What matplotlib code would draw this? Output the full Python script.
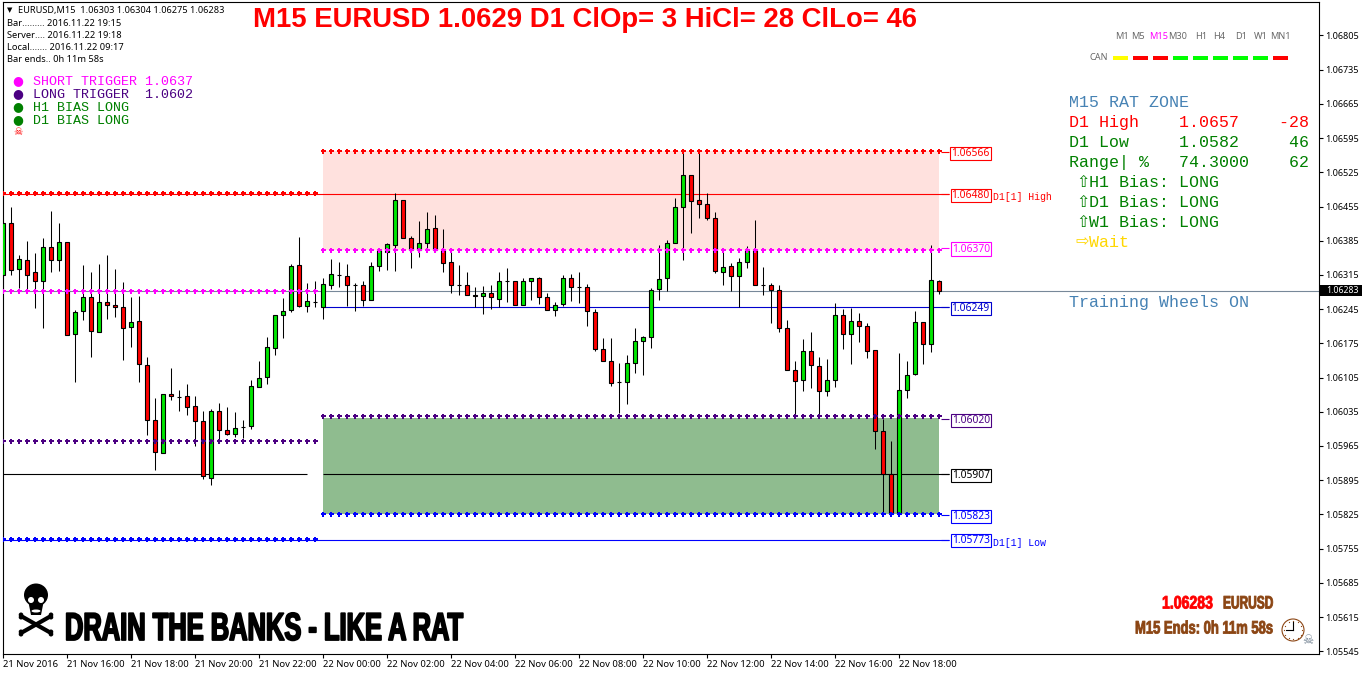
#!/usr/bin/env python3
"""EURUSD M15 chart with RAT zones, redrawn with matplotlib"""

import matplotlib
matplotlib.use('Agg')
import math
import matplotlib.pyplot as plt
import matplotlib.patheffects as pe
from matplotlib.patches import Circle, Ellipse, Rectangle, Polygon
from matplotlib.transforms import Affine2D

W, H = 1362, 675

# Candles, oldest first
opens = [
    1.06314, 1.06421, 1.06327, 1.06345, 1.06320, 1.06302, 1.06372, 1.06345, 1.06382, 1.06194,
    1.06241, 1.06269, 1.06198, 1.06259, 1.06253, 1.06249, 1.06208, 1.06220, 1.06130, 1.06018,
    1.05950, 1.06071, 1.06065, 1.06067, 1.06046, 1.06016, 1.05899, 1.06036, 1.05997, 1.05989,
    1.06004, 1.06005, 1.06085, 1.06106, 1.06165, 1.06232, 1.06243, 1.06335, 1.06251, 1.06260,
    1.06249, 1.06294, 1.06315, 1.06312, 1.06294, 1.06294, 1.06263, 1.06333, 1.06361, 1.06376,
    1.06468, 1.06390, 1.06367, 1.06380, 1.06410, 1.06367, 1.06341, 1.06294, 1.06294, 1.06273,
    1.06271, 1.06279, 1.06265, 1.06303, 1.06302, 1.06253, 1.06302, 1.06308, 1.06269, 1.06243,
    1.06255, 1.06308, 1.06290, 1.06290, 1.06239, 1.06163, 1.06138, 1.06095, 1.06095, 1.06134,
    1.06179, 1.06189, 1.06286, 1.06308, 1.06380, 1.06455, 1.06519, 1.06468, 1.06460, 1.06431,
    1.06322, 1.06333, 1.06312, 1.06341, 1.06365, 1.06294, 1.06294, 1.06284, 1.06206, 1.06120,
    1.06099, 1.06159, 1.06128, 1.06077, 1.06101, 1.06234, 1.06194, 1.06220, 1.06210, 1.06161,
    1.05995, 1.05908, 1.05825, 1.06079, 1.06112, 1.06218, 1.06173, 1.06303,
]
highs = [
    1.06424, 1.06453, 1.06355, 1.06385, 1.06359, 1.06390, 1.06445, 1.06421, 1.06382, 1.06243,
    1.06335, 1.06320, 1.06337, 1.06355, 1.06327, 1.06300, 1.06269, 1.06271, 1.06147, 1.06063,
    1.06071, 1.06124, 1.06079, 1.06091, 1.06067, 1.06036, 1.06040, 1.06052, 1.06044, 1.06034,
    1.06018, 1.06099, 1.06138, 1.06187, 1.06232, 1.06267, 1.06337, 1.06392, 1.06298, 1.06302,
    1.06308, 1.06347, 1.06341, 1.06337, 1.06298, 1.06302, 1.06341, 1.06365, 1.06380, 1.06482,
    1.06468, 1.06394, 1.06425, 1.06443, 1.06437, 1.06408, 1.06363, 1.06335, 1.06322, 1.06290,
    1.06292, 1.06294, 1.06322, 1.06329, 1.06302, 1.06308, 1.06308, 1.06310, 1.06279, 1.06259,
    1.06314, 1.06316, 1.06320, 1.06296, 1.06245, 1.06185, 1.06185, 1.06134, 1.06151, 1.06206,
    1.06191, 1.06288, 1.06376, 1.06386, 1.06472, 1.06568, 1.06519, 1.06568, 1.06482, 1.06443,
    1.06363, 1.06339, 1.06349, 1.06374, 1.06427, 1.06331, 1.06298, 1.06294, 1.06222, 1.06138,
    1.06183, 1.06198, 1.06148, 1.06142, 1.06257, 1.06245, 1.06247, 1.06237, 1.06216, 1.06161,
    1.06020, 1.05976, 1.06155, 1.06138, 1.06241, 1.06218, 1.06376, 1.06304,
]
lows = [
    1.06284, 1.06314, 1.06289, 1.06284, 1.06248, 1.06207, 1.06320, 1.06324, 1.06192, 1.06095,
    1.06222, 1.06148, 1.06198, 1.06224, 1.06228, 1.06140, 1.06168, 1.06095, 1.05988, 1.05915,
    1.05950, 1.06060, 1.06037, 1.06029, 1.05964, 1.05897, 1.05886, 1.05971, 1.05987, 1.05984,
    1.05982, 1.05999, 1.06085, 1.06091, 1.06152, 1.06185, 1.06240, 1.06249, 1.06239, 1.06249,
    1.06224, 1.06287, 1.06291, 1.06252, 1.06242, 1.06252, 1.06263, 1.06324, 1.06326, 1.06324,
    1.06390, 1.06330, 1.06352, 1.06367, 1.06361, 1.06322, 1.06279, 1.06273, 1.06273, 1.06249,
    1.06236, 1.06246, 1.06249, 1.06260, 1.06253, 1.06253, 1.06264, 1.06256, 1.06243, 1.06230,
    1.06252, 1.06262, 1.06258, 1.06211, 1.06159, 1.06138, 1.06088, 1.06033, 1.06050, 1.06114,
    1.06111, 1.06166, 1.06264, 1.06282, 1.06380, 1.06345, 1.06400, 1.06431, 1.06427, 1.06318,
    1.06294, 1.06282, 1.06249, 1.06329, 1.06294, 1.06273, 1.06216, 1.06198, 1.06120, 1.06028,
    1.06077, 1.06083, 1.06028, 1.06067, 1.06085, 1.06163, 1.06132, 1.06177, 1.06146, 1.05958,
    1.05825, 1.05825, 1.05825, 1.06063, 1.06110, 1.06132, 1.06157, 1.06275,
]
closes = [
    1.06421, 1.06325, 1.06347, 1.06314, 1.06302, 1.06372, 1.06345, 1.06382, 1.06192, 1.06239,
    1.06269, 1.06200, 1.06259, 1.06253, 1.06249, 1.06206, 1.06218, 1.06132, 1.06018, 1.05952,
    1.06071, 1.06067, 1.06065, 1.06044, 1.06016, 1.05903, 1.06036, 1.05997, 1.05989, 1.06001,
    1.06004, 1.06087, 1.06104, 1.06167, 1.06232, 1.06241, 1.06333, 1.06251, 1.06261, 1.06260,
    1.06296, 1.06316, 1.06315, 1.06294, 1.06294, 1.06263, 1.06333, 1.06365, 1.06378, 1.06468,
    1.06390, 1.06367, 1.06380, 1.06408, 1.06367, 1.06339, 1.06294, 1.06294, 1.06273, 1.06272,
    1.06279, 1.06269, 1.06302, 1.06303, 1.06253, 1.06302, 1.06308, 1.06269, 1.06243, 1.06253,
    1.06308, 1.06290, 1.06290, 1.06241, 1.06163, 1.06138, 1.06093, 1.06095, 1.06134, 1.06179,
    1.06189, 1.06284, 1.06306, 1.06380, 1.06455, 1.06519, 1.06466, 1.06460, 1.06431, 1.06324,
    1.06331, 1.06312, 1.06341, 1.06365, 1.06294, 1.06294, 1.06284, 1.06206, 1.06120, 1.06097,
    1.06159, 1.06130, 1.06077, 1.06101, 1.06234, 1.06194, 1.06220, 1.06210, 1.06159, 1.05995,
    1.05908, 1.05825, 1.06079, 1.06110, 1.06218, 1.06173, 1.06304, 1.06283,
]

bar_labels = ['21 Nov 2016', '21 Nov 16:00', '21 Nov 18:00', '21 Nov 20:00', '21 Nov 22:00',
              '22 Nov 00:00', '22 Nov 02:00', '22 Nov 04:00', '22 Nov 06:00', '22 Nov 08:00',
              '22 Nov 10:00', '22 Nov 12:00', '22 Nov 14:00', '22 Nov 16:00', '22 Nov 18:00']
price_ticks = [1.06805, 1.06735, 1.06665, 1.06595, 1.06525, 1.06455, 1.06385, 1.06315, 1.06245, 1.06175,
               1.06105, 1.06035, 1.05965, 1.05895, 1.05825, 1.05755, 1.05685, 1.05615, 1.05545]

last_price = 1.06283
d1_high, d1_low = 1.06480, 1.05773
pivot_level = 1.06249
mid_level = 1.05907

# Dotted levels: (price, colour), previous day on the left, today on the right
left_dots = [(1.06482, '#ff0000'), (1.06282, '#ff00ff'), (1.05975, '#4b0082'), (1.05775, '#0000ff')]
right_dots = [(1.06568, '#ff0000'), (1.06367, '#ff00ff'), (1.06026, '#4b0082'), (1.05825, '#0000ff')]

# Tagged prices on the right of the zones
price_tags = [(1.06566, '#ff0000'), (1.06480, '#ff0000'), (1.06370, '#ff00ff'), (1.06249, '#0000cd'),
              (1.06020, '#4b0082'), (1.05907, '#000000'), (1.05823, '#0000ff'), (1.05773, '#0000ff')]

tf_names = ['M1', 'M5', 'M15', 'M30', 'H1', 'H4', 'D1', 'W1', 'MN1']
tf_colors = ['#696969', '#696969', '#ff00ff', '#696969', '#696969', '#696969', '#696969', '#696969', '#696969']
can_colors = ['#ffff00', '#ff0000', '#ff0000', '#00ff00', '#00ff00', '#00ff00', '#00ff00', '#00ff00', '#ff0000']

MONO = 'Liberation Mono'
SANS = 'Noto Sans'
ARIAL = 'Liberation Sans'


class Squeezed(pe.AbstractPathEffect):
    """Draws a text narrower around x0 (display px), there is no Impact here"""

    def __init__(self, x0, sx, stroke=0.0):
        super().__init__()
        self.x0, self.sx, self.stroke = x0, sx, stroke

    def draw_path(self, renderer, gc, tpath, affine, rgbFace=None):
        squeeze = affine + Affine2D().translate(-self.x0, 0).scale(self.sx, 1).translate(self.x0, 0)
        gc0 = renderer.new_gc()
        gc0.copy_properties(gc)
        gc0.set_linewidth(self.stroke)
        gc0.set_foreground(rgbFace)
        renderer.draw_path(gc0, tpath, squeeze, rgbFace)
        gc0.restore()


def px(x, y):
    """Pixel position of the reference -> figure fraction"""
    return x / W, 1 - y / H


def put(fig, x, y, s, **kw):
    kw.setdefault('va', 'center')
    kw.setdefault('family', SANS)
    kw.setdefault('fontsize', 6.7)
    return fig.text(*px(x, y), s, **kw)


def heavy(fig, x, y, s, size, sx, color, stroke=0.6, ha='left'):
    """Bold squeezed text, x is the edge it is squeezed towards"""
    return put(fig, x, y, s, family=ARIAL, fontweight='bold', fontsize=size, color=color, ha=ha,
               path_effects=[Squeezed(x, sx, stroke)])


def draw_candles(ax):
    xs = list(range(len(opens)))
    ax.vlines(xs, lows, highs, color='black', lw=0.75, zorder=3)
    for i in xs:
        o, c = opens[i], closes[i]
        col = '#00e600' if c > o else '#ff0000'
        if abs(c - o) < 0.00003:
            col = 'black'
        ax.bar(i, abs(c - o), bottom=min(o, c), width=0.5, color=col,
               edgecolor='black', linewidth=0.8, zorder=4)


def draw_levels(ax):
    n = len(opens)
    ax.add_patch(Rectangle((40.0, 1.06367), n - 41.0, 1.06568 - 1.06367, fc='#ffe1de', ec='none', zorder=0))
    ax.add_patch(Rectangle((40.0, 1.05825), n - 41.0, 1.06023 - 1.05825, fc='#8fbc8f', ec='none', zorder=0))

    end = 118.3
    ax.axhline(last_price, color='#778899', lw=0.8, zorder=1)
    ax.hlines(d1_high, -0.1, end, color='#ff0000', lw=0.8, zorder=1)
    ax.hlines(d1_low, -0.1, end, color='#0000ff', lw=0.8, zorder=1)
    ax.hlines(pivot_level, 40.0, end, color='#0000cd', lw=0.8, zorder=1)
    ax.hlines(mid_level, -0.1, 38, color='black', lw=0.8, zorder=1)
    ax.hlines(mid_level, 40.0, end, color='black', lw=0.8, zorder=1)

    for price, col in left_dots:
        ax.plot(range(0, 40), [price] * 40, ls='none', marker='P', ms=3.6, mew=0, color=col, zorder=5)
    for price, col in right_dots:
        ax.plot(range(40, n), [price] * (n - 40), ls='none', marker='P', ms=3.6, mew=0, color=col, zorder=5)

    for price, col in price_tags:
        ax.hlines(price, 117.3, end, color=col, lw=0.8, zorder=1)
        ax.text(120.95, price - 0.00002, f'{price:.5f}', ha='center', va='center', family=SANS, fontsize=7.4,
                color=col, zorder=6, bbox=dict(boxstyle='square,pad=0.1', fc='white', ec=col, lw=0.8))
    ax.text(123.8, d1_high - 0.00006, 'D1[1] High', family=MONO, fontsize=7.1, color='#ff0000', va='center')
    ax.text(123.8, d1_low - 0.00006, 'D1[1] Low', family=MONO, fontsize=7.1, color='#0000ff', va='center')

    # current price tag in the scale
    ax.add_patch(Rectangle((1.0, last_price - 0.00012), 0.033, 0.00024, fc='black', ec='none',
                           transform=ax.get_yaxis_transform(), clip_on=False, zorder=7))
    ax.text(1.0053, last_price, f'{last_price:.5f}', color='white', family=SANS, fontsize=6.3, fontweight='bold',
            va='center', transform=ax.get_yaxis_transform(), clip_on=False, zorder=8)


def draw_header(fig):
    put(fig, 585, 20, 'M15 EURUSD 1.0629 D1 ClOp= 3 HiCl= 28 ClLo= 46', ha='center', family=ARIAL,
        fontweight='bold', fontsize=19.8, color='#ff0000')

    put(fig, 10, 10, '\u25bc', family='DejaVu Sans', fontsize=5, ha='center', color='black')
    put(fig, 18, 10, 'EURUSD,M15  1.06303 1.06304 1.06275 1.06283', fontsize=6.6)
    put(fig, 7, 23, 'Bar......... 2016.11.22 19:15')
    put(fig, 7, 35, 'Server.... 2016.11.22 19:18')
    put(fig, 7, 47, 'Local....... 2016.11.22 09:17')
    put(fig, 7, 59, 'Bar ends.. 0h 11m 58s')

    rows = [(81, 'SHORT TRIGGER 1.0637', '#ff00ff'), (94, 'LONG TRIGGER  1.0602', '#4b0082'),
            (107, 'H1 BIAS LONG', '#008000'), (120, 'D1 BIAS LONG', '#008000')]
    for y, s, col in rows:
        put(fig, 18, y, '\u25cf', family='DejaVu Sans', fontsize=9, ha='center', color=col)
        put(fig, 33, y + 0.7, s, family=MONO, fontsize=9.6, color=col)
    put(fig, 18, 132, '\u2620', family='DejaVu Sans', fontsize=7.5, ha='center', color='#ff0000')


def draw_panel(fig, over):
    tf_x = [1122, 1138, 1159, 1178, 1201, 1219, 1241, 1261, 1280]
    for x, s, col in zip(tf_x, tf_names, tf_colors):
        put(fig, x, 36.5, s, ha='center', color=col, fontsize=6.6)
    put(fig, 1099, 58, 'CAN', ha='center', color='#696969', fontsize=6.6)
    for k, col in enumerate(can_colors):
        over.add_patch(Rectangle((1112.5 + k * 20, 56), 15, 4, fc=col, ec='none'))

    blue, green, red, gold = '#4682b4', '#008000', '#ff0000', '#ffd700'
    rows = [(102.5, 'M15 RAT ZONE', blue), (122.5, 'D1 High    1.0657    -28', red),
            (142.5, 'D1 Low     1.0582     46', green), (162.5, 'Range| %   74.3000    62', green)]
    for y, s, col in rows:
        put(fig, 1069, y, s, family=MONO, fontsize=12, color=col)
    for y, s in [(182.5, 'H1 Bias: LONG'), (202.5, 'D1 Bias: LONG'), (222.5, 'W1 Bias: LONG')]:
        put(fig, 1083, y, '\u21e7', family='DejaVu Sans', fontsize=11.5, ha='center', color=green)
        put(fig, 1089, y, s, family=MONO, fontsize=12, color=green)
    put(fig, 1082, 241, '\u21e8', family='DejaVu Sans', fontsize=11.5, ha='center', color=gold)
    put(fig, 1089, 242.5, 'Wait', family=MONO, fontsize=12, color=gold)
    put(fig, 1069, 302.5, 'Training Wheels ON', family=MONO, fontsize=12, color=blue)


def draw_skull(over):
    """Filled skull and bones, the bottom left icon"""
    for x0, y0, x1, y1 in [(21, 633, 51, 616), (21, 616, 51, 633)]:
        over.plot([x0, x1], [y0, y1], color='black', lw=3.0, solid_capstyle='round')
        for x, y in [(x0, y0), (x1, y1)]:
            over.add_patch(Circle((x, y - 1.2), 2.3, fc='black', ec='none'))
            over.add_patch(Circle((x, y + 1.2), 2.3, fc='black', ec='none'))
    over.add_patch(Ellipse((36, 595), 24, 23, fc='black', ec='none'))
    over.add_patch(Polygon([(28, 600), (44, 600), (41, 615), (31, 615)], fc='black', ec='none'))
    over.add_patch(Ellipse((31, 600), 6, 6, fc='white', ec='none'))
    over.add_patch(Ellipse((41, 600), 6, 6, fc='white', ec='none'))
    over.add_patch(Ellipse((36, 611), 9, 3, fc='white', ec='none'))


def draw_clock(over, color):
    cx, cy = 1293, 630
    over.add_patch(Circle((cx, cy), 11, fc='white', ec=color, lw=0.8))
    for k in range(12):
        a = k * math.pi / 6
        over.plot(cx + 9 * math.cos(a), cy + 9 * math.sin(a), marker='o', ms=0.9, mew=0, color=color)
    over.plot([cx, cx], [cy, cy - 8], color='black', lw=0.8)
    over.plot([cx, cx - 7], [cy, cy], color='black', lw=0.8)


def draw_footer(fig, over):
    draw_skull(over)
    heavy(fig, 65, 630, 'DRAIN THE BANKS - LIKE A RAT', 28, 0.655, 'black', stroke=1.3)

    brown = '#8b4513'
    heavy(fig, 1162, 604, f'{last_price:.5f}', 13, 0.78, '#ff0000')
    heavy(fig, 1223, 604, 'EURUSD', 13, 0.66, brown)
    heavy(fig, 1273, 629, 'M15 Ends: 0h 11m 58s', 13, 0.72, brown, ha='right')

    draw_clock(over, brown)
    put(fig, 1308, 640, '\u2620', family='DejaVu Sans', fontsize=9, ha='center', color='#708090')


def main():
    fig = plt.figure(figsize=(W / 100, H / 100), dpi=100, facecolor='white')

    left, right, top, bottom = 2.5, 1319, 1.5, 654.3
    ax = fig.add_axes([left / W, 1 - bottom / H, (right - left) / W, (bottom - top) / H])
    ax.set_xlim(-0.1, 164.5)
    ax.set_ylim(1.055387, 1.068745)
    for s in ax.spines.values():
        s.set_linewidth(0.8)

    draw_levels(ax)
    draw_candles(ax)

    ax.yaxis.tick_right()
    ax.set_yticks(price_ticks)
    ax.set_yticklabels([f'{p:.5f}' for p in price_ticks], family=SANS, fontsize=6.5)
    ax.set_xticks(range(0, 8 * len(bar_labels), 8))
    ax.set_xticklabels(bar_labels, family=SANS, fontsize=6.8, ha='left')
    ax.tick_params(axis='y', length=3, width=0.8, pad=1.5)
    ax.tick_params(axis='x', length=3, width=0.8, pad=1)

    # overlay in reference pixels for the icons
    over = fig.add_axes([0, 0, 1, 1], facecolor='none')
    over.set_xlim(0, W)
    over.set_ylim(H, 0)
    over.axis('off')

    draw_header(fig)
    draw_panel(fig, over)
    draw_footer(fig, over)

    fig.savefig('out.png', dpi=100, facecolor='white')
    plt.close(fig)


if __name__ == "__main__":
    main()
